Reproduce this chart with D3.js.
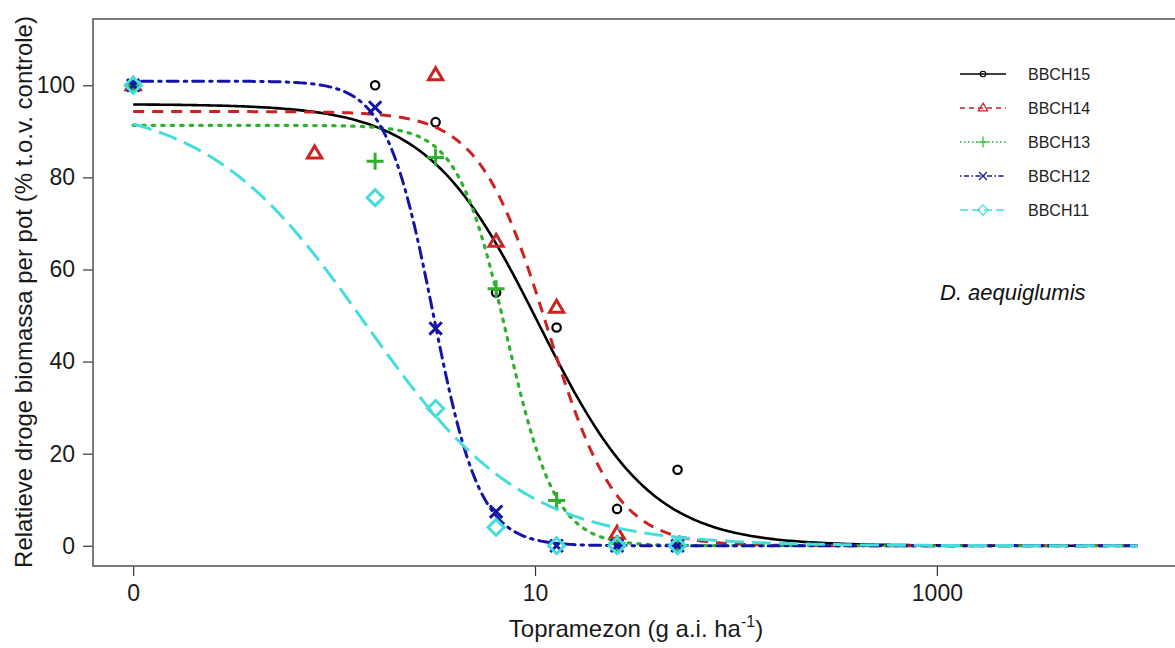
<!DOCTYPE html>
<html>
<head>
<meta charset="utf-8">
<script src="https://cdn.jsdelivr.net/npm/d3@7"></script>
<style>
  html, body { margin: 0; padding: 0; background: #fff; }
  svg { display: block; font-family: "Liberation Sans", Arial, sans-serif; }
</style>
</head>
<body>
<svg id="chart" width="1175" height="648"></svg>
<script>
// Dose levels (g a.i./ha); the untreated control is placed at the "0" tick
const doseLevels = [0, 0.8, 1.6, 3.2, 6.4, 12.8, 25.6, 51.2];
const controlPosition = 0.1;

// Relative dry biomass per pot (% of control) for each growth stage
const seriesNames = ["BBCH15", "BBCH14", "BBCH13", "BBCH12", "BBCH11"];
const bbch15 = [100, null, 100, 92, 55, 47.4, 8, 16.5];
const bbch14 = [100, 85.2, null, 102.2, 66, 51.7, 2.6, null];
const bbch13 = [100, null, 83.5, 84.3, 55.8, 9.8, 0.5, 0];
const bbch12 = [100, null, 95.2, 47.2, 7.4, 0, 0, 0];
const bbch11 = [100, null, 75.6, 29.8, 4, 0, 0, 0];

// Fitted three-parameter log-logistic models: y = d / (1 + exp(b (ln x - ln e)))
const slopeB = [1.56, 2.555, 3.57, 3.71, 1.10];
const upperD = [95.9, 94.3, 91.3, 100.9, 96.5];
const ed50E  = [10.5, 11.55, 7.23, 3.11, 1.43];

// Axis ticks
const xTickValues = [0.1, 10, 1000];
const xTickLabels = ["0", "10", "1000"];
const yTickValues = [0, 20, 40, 60, 80, 100];

const colors  = ["#000000", "#cc2222", "#2fb02f", "#1414a8", "#45dcdc"];
const dashes  = [null, "11,8", "2.5,7", "2.5,6,11,6", "19,8"];
const widths  = [2.6, 3, 3.2, 3, 3];
const symbols = ["circle", "triangle", "plus", "cross", "diamond"];

const values = [bbch15, bbch14, bbch13, bbch12, bbch11];

const svg = d3.select("#chart");

const x = d3.scaleLog().domain([Math.pow(10, -1.2), Math.pow(10, 4.2)]).range([93, 1178]);
const y = d3.scaleLinear().domain([-4.4, 114.4]).range([566, 19]);

// Axes
const xAxis = svg.append("g")
  .attr("transform", "translate(0,566)")
  .call(d3.axisBottom(x).tickValues(xTickValues)
    .tickFormat((d, i) => xTickLabels[i]).tickSize(10).tickPadding(8));
const yAxis = svg.append("g")
  .attr("transform", "translate(93,0)")
  .call(d3.axisLeft(y).tickValues(yTickValues).tickSize(10).tickPadding(8));

[xAxis, yAxis].forEach(g => {
  g.select(".domain").remove();
  g.selectAll(".tick line").attr("stroke", "#333").attr("stroke-width", 1.2);
  g.selectAll(".tick text").attr("fill", "#1a1a1a")
    .style("font-size", "23px").style("font-family", "'Liberation Sans', Arial, sans-serif");
});
xAxis.selectAll(".tick text").attr("dy", "0.75em");

// Plot frame
svg.append("rect")
  .attr("x", 93).attr("y", 19)
  .attr("width", 1178 - 93).attr("height", 566 - 19)
  .attr("fill", "none").attr("stroke", "#5a5a5a").attr("stroke-width", 1.6);

// Axis titles
const xTitle = svg.append("text")
  .attr("x", 636).attr("y", 637)
  .attr("text-anchor", "middle")
  .style("font-size", "24px").attr("fill", "#1a1a1a");
xTitle.append("tspan").text("Topramezon (g a.i. ha");
xTitle.append("tspan").attr("dy", -10).style("font-size", "16px").text("-1");
xTitle.append("tspan").attr("dy", 10).text(")");

svg.append("text")
  .attr("transform", "translate(32,292) rotate(-90)")
  .attr("text-anchor", "middle")
  .style("font-size", "24px").attr("fill", "#1a1a1a")
  .text("Relatieve droge biomassa per pot (% t.o.v. controle)");

// Species label
svg.append("text")
  .attr("x", 940).attr("y", 300)
  .style("font-size", "22px").style("font-style", "italic").attr("fill", "#111")
  .text("D. aequiglumis");

// Marker drawing
function drawSymbol(g, kind, cx, cy, color, scale, sw) {
  const s = scale;
  if (kind === "circle") {
    g.append("circle").attr("cx", cx).attr("cy", cy).attr("r", 4.2 * s)
      .attr("fill", "none").attr("stroke", color).attr("stroke-width", sw);
  } else if (kind === "triangle") {
    const h = 7.5 * s;
    g.append("path")
      .attr("d", `M${cx},${cy - h}L${cx + h * 0.95},${cy + h * 0.6}L${cx - h * 0.95},${cy + h * 0.6}Z`)
      .attr("fill", "none").attr("stroke", color).attr("stroke-width", sw).attr("stroke-linejoin", "miter");
  } else if (kind === "plus") {
    const h = 8.5 * s;
    g.append("path")
      .attr("d", `M${cx - h},${cy}H${cx + h}M${cx},${cy - h}V${cy + h}`)
      .attr("fill", "none").attr("stroke", color).attr("stroke-width", sw);
  } else if (kind === "cross") {
    const h = 6.2 * s;
    g.append("path")
      .attr("d", `M${cx - h},${cy - h}L${cx + h},${cy + h}M${cx - h},${cy + h}L${cx + h},${cy - h}`)
      .attr("fill", "none").attr("stroke", color).attr("stroke-width", sw);
  } else if (kind === "diamond") {
    const h = 8 * s;
    g.append("path")
      .attr("d", `M${cx},${cy - h}L${cx + h},${cy}L${cx},${cy + h}L${cx - h},${cy}Z`)
      .attr("fill", "none").attr("stroke", color).attr("stroke-width", sw);
  }
}

// Curves and observations
const curveDoses = d3.range(0, 401).map(i => Math.pow(10, -1 + 5 * i / 400));
const line = d3.line().x(d => x(d[0])).y(d => y(d[1]));

seriesNames.forEach((name, k) => {
  const g = svg.append("g").attr("class", "series " + name);
  const fit = curveDoses.map(dose =>
    [dose, upperD[k] / (1 + Math.exp(slopeB[k] * (Math.log(dose) - Math.log(ed50E[k]))))]);
  g.append("path")
    .datum(fit)
    .attr("d", line)
    .attr("fill", "none")
    .attr("stroke", colors[k])
    .attr("stroke-width", widths[k])
    .attr("stroke-linecap", k === 2 || k === 3 ? "round" : "butt")
    .attr("stroke-dasharray", dashes[k]);

  values[k].forEach((v, i) => {
    if (v === null) return;
    const dose = doseLevels[i] === 0 ? controlPosition : doseLevels[i];
    drawSymbol(g, symbols[k], x(dose), y(v), colors[k], 1, k === 0 ? 2.2 : 3);
  });
});

// Legend
const legendRows = [74, 108, 142, 176, 210];
const legendDash = [null, "5,4", "1.5,2.5", "1.5,2.5,5,2.5", "8,4"];
seriesNames.forEach((name, k) => {
  const g = svg.append("g").attr("class", "legend-row");
  g.append("line")
    .attr("x1", 960).attr("x2", 1006)
    .attr("y1", legendRows[k]).attr("y2", legendRows[k])
    .attr("stroke", colors[k]).attr("stroke-width", 1.3)
    .attr("stroke-dasharray", legendDash[k]);
  drawSymbol(g, symbols[k], 983, legendRows[k], colors[k], 0.65, 1.2);
  g.append("text")
    .attr("x", 1028).attr("y", legendRows[k])
    .attr("dy", "0.36em")
    .style("font-size", "16px").attr("fill", "#222")
    .text(name);
});
</script>
</body>
</html>
